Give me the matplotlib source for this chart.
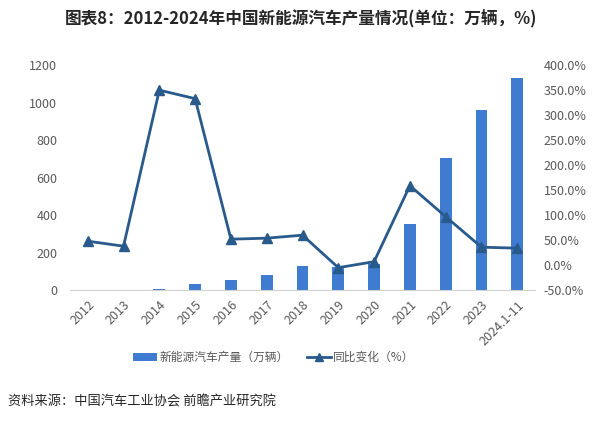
import matplotlib
matplotlib.use("Agg")
import matplotlib.pyplot as plt
from matplotlib.lines import Line2D
from matplotlib.patches import Patch

plt.rcParams['font.family'] = ['Noto Sans CJK SC', 'DejaVu Sans']

categories = ["2012", "2013", "2014", "2015", "2016", "2017", "2018", "2019",
              "2020", "2021", "2022", "2023", "2024.1-11"]
production = [1.3, 1.8, 7.9, 34, 52, 79, 127, 124, 137, 355, 706, 959, 1134]
yoy_pct = [48, 38, 350, 333, 52, 54, 60, -5, 7, 159, 97, 36, 34]
left_ticks = [0, 200, 400, 600, 800, 1000, 1200]
right_ticks = [-50, 0, 50, 100, 150, 200, 250, 300, 350, 400]

bar_color = "#3f7bd1"
line_color = "#285a8c"
text_color = "#595959"

fig = plt.figure(figsize=(6.02, 4.23), dpi=100)
ax = fig.add_axes([0.116, 0.314, 0.773, 0.532])
x = list(range(len(categories)))
ax.bar(x, production, width=0.33, color=bar_color, zorder=2)
ax.set_xlim(-0.5, len(categories) - 0.5)
ax.set_ylim(0, 1200)
ax.set_yticks(left_ticks)
ax.set_yticklabels([str(v) for v in left_ticks])
ax.set_xticks(x)
ax.set_xticklabels(categories, rotation=45, ha="right", rotation_mode="anchor")
for s in ["top", "right", "left"]:
    ax.spines[s].set_visible(False)
ax.spines["bottom"].set_color("#d0d0d0")
ax.tick_params(axis="both", length=0, colors=text_color, labelsize=9)
ax.tick_params(axis="x", pad=6)
ax.tick_params(axis="y", pad=9)

ax2 = ax.twinx()
ax2.plot(x, yoy_pct, color=line_color, lw=2, marker="^", markersize=6.5, zorder=3)
ax2.set_ylim(-50, 400)
ax2.set_yticks(right_ticks)
ax2.set_yticklabels([f"{v:.1f}%" for v in right_ticks])
for s in ["top", "right", "left", "bottom"]:
    ax2.spines[s].set_visible(False)
ax2.tick_params(axis="y", length=0, colors=text_color, labelsize=9, pad=6)

fig.text(0.5, 0.955, "图表8：2012-2024年中国新能源汽车产量情况(单位：万辆，%)",
         ha="center", va="center", fontsize=12, fontweight="bold", color="#262626")

handles = [Patch(facecolor=bar_color, edgecolor="none"),
           Line2D([0], [0], color=line_color, lw=2, marker="^", markersize=6)]
fig.legend(handles, ["新能源汽车产量（万辆）", "同比变化（%）"],
           loc="center", bbox_to_anchor=(0.455, 0.155), ncol=2, frameon=False,
           fontsize=8.5, labelcolor=text_color, handlelength=2.0, columnspacing=1.6,
           handletextpad=0.2)

fig.text(0.013, 0.05, "资料来源：中国汽车工业协会 前瞻产业研究院", ha="left", va="center",
         fontsize=9.5, color="#262626")

fig.savefig("out.png", dpi=100)
